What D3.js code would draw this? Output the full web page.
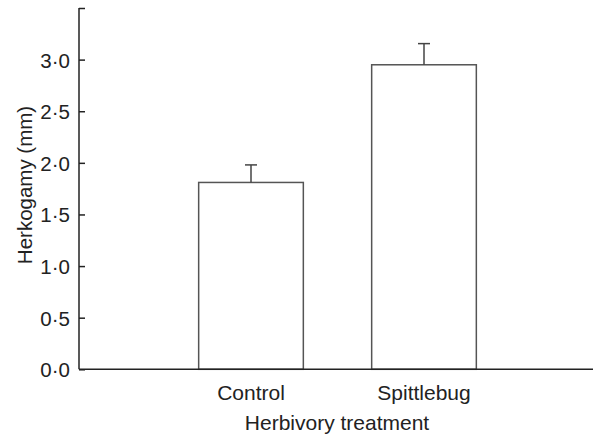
<!DOCTYPE html>
<html>
<head>
<meta charset="utf-8">
<script src="https://cdn.jsdelivr.net/npm/d3@7"></script>
<style>
  html, body { margin: 0; padding: 0; background: #fff; }
  svg { display: block; }
  text { font-family: "Liberation Sans", Arial, Helvetica, sans-serif; fill: #222; }
</style>
</head>
<body>
<svg id="chart" width="593" height="435"></svg>
<script>
const categories = ["Control", "Spittlebug"];
const means = [1.81, 2.95];
const errors = [0.17, 0.205];
const yTicks = [0, 0.5, 1.0, 1.5, 2.0, 2.5, 3.0, 3.5];
const yTickLabels = ["0·0", "0·5", "1·0", "1·5", "2·0", "2·5", "3·0", ""];
const xTitle = "Herbivory treatment";
const yTitle = "Herkogamy (mm)";

const svg = d3.select("#chart");
const plotLeft = 79, plotRight = 593, plotTop = 8, plotBottom = 369.3;

const y = d3.scaleLinear().domain([0, 3.5]).range([plotBottom, plotTop]);
const x = d3.scaleBand().domain(categories).range([164.5, 510.5])
  .paddingInner(0.395).paddingOuter(0.1975);

// bars
const g = svg.append("g");
g.selectAll("rect.bar").data(categories).enter().append("rect")
  .attr("class", "bar")
  .attr("x", d => x(d))
  .attr("y", (d, i) => y(means[i]))
  .attr("width", x.bandwidth())
  .attr("height", (d, i) => y(0) - y(means[i]))
  .attr("fill", "#fff")
  .attr("stroke", "#555")
  .attr("stroke-width", 1.5);

// error bars
g.selectAll("line.err").data(categories).enter().append("line")
  .attr("class", "err")
  .attr("x1", d => x(d) + x.bandwidth() / 2)
  .attr("x2", d => x(d) + x.bandwidth() / 2)
  .attr("y1", (d, i) => y(means[i]))
  .attr("y2", (d, i) => y(means[i] + errors[i]))
  .attr("stroke", "#444").attr("stroke-width", 1.5);
g.selectAll("line.cap").data(categories).enter().append("line")
  .attr("class", "cap")
  .attr("x1", d => x(d) + x.bandwidth() / 2 - 6)
  .attr("x2", d => x(d) + x.bandwidth() / 2 + 6)
  .attr("y1", (d, i) => y(means[i] + errors[i]))
  .attr("y2", (d, i) => y(means[i] + errors[i]))
  .attr("stroke", "#444").attr("stroke-width", 1.5);

// y axis
const yAxis = d3.axisRight(y).tickValues(yTicks).tickSize(6)
  .tickFormat((d, i) => yTickLabels[i]);
const ya = svg.append("g").attr("transform", `translate(${plotLeft},0)`).call(yAxis);
ya.select(".domain").remove();
ya.selectAll(".tick line").attr("stroke", "#222").attr("stroke-width", 1.5);
ya.selectAll(".tick text").attr("x", -9).attr("text-anchor", "end")
  .attr("font-size", 20.5).attr("font-family", "Liberation Sans, Arial, sans-serif")
  .attr("fill", "#222").attr("dy", "0.36em");
svg.append("line").attr("x1", plotLeft).attr("x2", plotLeft).attr("y1", plotTop).attr("y2", plotBottom)
  .attr("stroke", "#222").attr("stroke-width", 1.5);

// x axis
svg.append("line").attr("x1", plotLeft).attr("x2", plotRight).attr("y1", plotBottom).attr("y2", plotBottom)
  .attr("stroke", "#222").attr("stroke-width", 1.5);
svg.selectAll("text.xlab").data(categories).enter().append("text")
  .attr("class", "xlab")
  .attr("x", d => x(d) + x.bandwidth() / 2)
  .attr("y", 400)
  .attr("text-anchor", "middle")
  .attr("font-size", 21)
  .text(d => d);

// titles
svg.append("text").attr("x", 337).attr("y", 430).attr("text-anchor", "middle")
  .attr("font-size", 21).text(xTitle);
svg.append("text").attr("transform", "translate(32,185) rotate(-90)")
  .attr("text-anchor", "middle").attr("font-size", 20.5).text(yTitle);
</script>
</body>
</html>
